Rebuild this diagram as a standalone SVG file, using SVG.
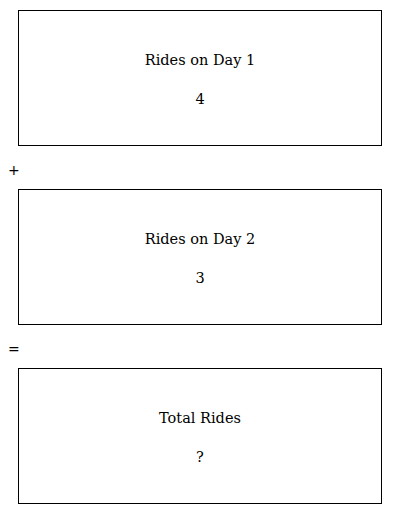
<svg xmlns="http://www.w3.org/2000/svg" width="400" height="514" viewBox="0 0 400 514">
<style>
.box{fill:#fff;stroke:#000;stroke-width:1}
.t{font-family:"DejaVu Serif","Liberation Serif",serif;font-size:14.5px;fill:#000;text-anchor:middle}
.op{font-family:"DejaVu Sans","Liberation Sans",sans-serif;font-size:14px;fill:#000}
</style>
<rect width="400" height="514" fill="#fff"/>
<g id="day1">
<rect class="box" x="18.5" y="10.5" width="363" height="135"/>
<text class="t" x="200" y="65">Rides on Day 1</text>
<text class="t" x="200" y="104">4</text>
</g>
<g id="day2">
<rect class="box" x="18.5" y="189.5" width="363" height="135"/>
<text class="t" x="200" y="244">Rides on Day 2</text>
<text class="t" x="200" y="283">3</text>
</g>
<g id="total">
<rect class="box" x="18.5" y="368.5" width="363" height="135"/>
<text class="t" x="200" y="423">Total Rides</text>
<text class="t" x="200" y="462">?</text>
</g>
<g id="connectors">
<text class="op" x="8" y="175">+</text>
<text class="op" x="8" y="354">=</text>
</g>
</svg>
